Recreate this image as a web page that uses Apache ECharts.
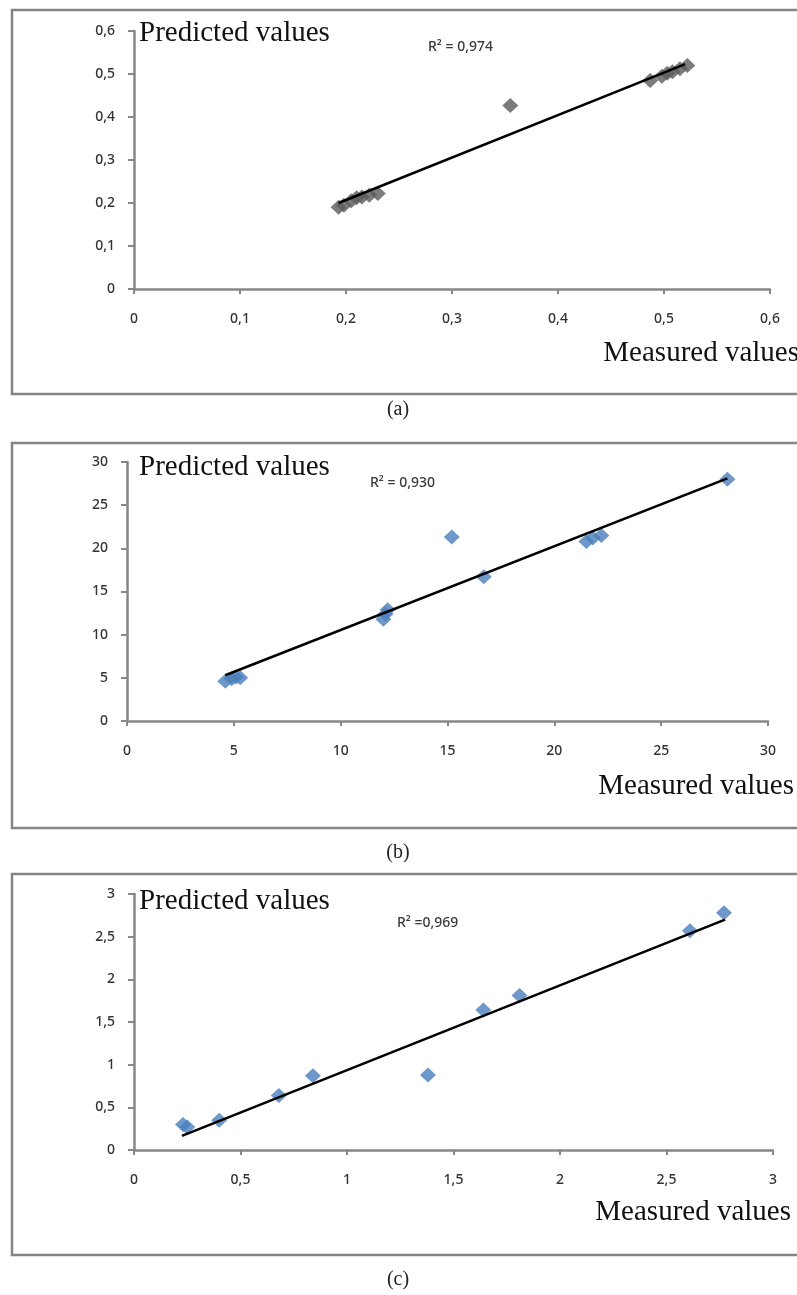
<!DOCTYPE html>
<html>
<head>
<meta charset="utf-8">
<script src="https://cdn.jsdelivr.net/npm/echarts@6/dist/echarts.min.js"></script>
<style>html,body{margin:0;padding:0;background:#fff;}#chart{width:797px;height:1295px;}</style>
</head>
<body>
<div id="chart"></div>
<script>
// Panel (a)
var aMeasured  = [0.193, 0.198, 0.205, 0.210, 0.215, 0.222, 0.230, 0.355, 0.487, 0.498, 0.503, 0.508, 0.515, 0.522];
var aPredicted = [0.190, 0.195, 0.205, 0.212, 0.214, 0.218, 0.222, 0.427, 0.485, 0.495, 0.502, 0.505, 0.512, 0.520];
var aTrendX = [0.193, 0.520];
var aTrendY = [0.200, 0.523];
// Panel (b)
var bMeasured  = [4.6, 4.9, 5.1, 5.3, 12.0, 12.1, 12.2, 15.2, 16.7, 21.5, 21.8, 22.2, 28.1];
var bPredicted = [4.6, 4.9, 5.1, 5.0, 11.8, 12.4, 12.9, 21.3, 16.7, 20.8, 21.2, 21.5, 28.0];
var bTrendX = [4.6, 28.1];
var bTrendY = [5.3, 28.1];
// Panel (c)
var cMeasured  = [0.23, 0.25, 0.40, 0.68, 0.84, 1.38, 1.64, 1.81, 2.61, 2.77];
var cPredicted = [0.30, 0.27, 0.35, 0.64, 0.87, 0.88, 1.64, 1.81, 2.57, 2.78];
var cTrendX = [0.225, 2.775];
var cTrendY = [0.165, 2.700];

var axisMax = [0.6, 30, 3];
var axisInterval = [0.1, 5, 0.5];
var r2Labels = ['R\u00B2 = 0,974', 'R\u00B2 = 0,930', 'R\u00B2 =0,969'];
var captions = ['(a)', '(b)', '(c)'];
var yTitle = 'Predicted values';
var xTitle = 'Measured values';

function pairs(xs, ys){ return xs.map(function(x,i){ return [x, ys[i]]; }); }
function comma(v){ return String(+v.toFixed(2)).replace('.', ','); }

var grids = [
  {left:134, top:31, width:636, height:258},
  {left:127, top:462, width:641, height:259},
  {left:134, top:894, width:639, height:256}
];
var axisColor = '#878787';
var labelStyle = {color:'#333', fontFamily:'Noto Sans', fontSize:14, fontWeight:500, formatter: comma};

var xAxes = [], yAxes = [];
for (var i=0;i<3;i++){
  xAxes.push({type:'value', gridIndex:i, min:0, max:axisMax[i], interval:axisInterval[i],
    axisLine:{show:true, onZero:false, lineStyle:{color:axisColor, width:2.5}},
    axisTick:{show:true, length:5, lineStyle:{color:axisColor, width:2}},
    splitLine:{show:false},
    axisLabel:Object.assign({margin:23}, labelStyle)});
  yAxes.push({type:'value', gridIndex:i, min:0, max:axisMax[i], interval:axisInterval[i],
    axisLine:{show:true, onZero:false, lineStyle:{color:axisColor, width:2.5}},
    axisTick:{show:true, length:6, lineStyle:{color:axisColor, width:2}},
    splitLine:{show:false},
    axisLabel:Object.assign({margin:19}, labelStyle)});
}

var markerColors = ['#5b5b5b', '#4a7ebb', '#4a7ebb'];
var scatterData = [pairs(aMeasured,aPredicted), pairs(bMeasured,bPredicted), pairs(cMeasured,cPredicted)];
var trendData = [pairs(aTrendX,aTrendY), pairs(bTrendX,bTrendY), pairs(cTrendX,cTrendY)];
var series = [];
for (var i=0;i<3;i++){
  series.push({type:'scatter', xAxisIndex:i, yAxisIndex:i, data:scatterData[i],
    symbol:'diamond', symbolSize:[16,15], itemStyle:{color:markerColors[i]}, z:2});
  series.push({type:'line', xAxisIndex:i, yAxisIndex:i, data:trendData[i],
    symbol:'none', lineStyle:{color:'#000', width:2.5}, z:3});
}

var frames = [[10,384],[443,385],[874,381]];
var graphic = [];
var yTitleY = [33, 467, 901];
var xTitleY = [353, 786, 1212];
var xTitleX = [799, 794, 791];
var r2Pos = [[428,47],[370,483],[397,923]];
var capY = [410, 853, 1280];
for (var i=0;i<3;i++){
  graphic.push({type:'rect', shape:{x:12, y:frames[i][0], width:800, height:frames[i][1]},
    style:{fill:'none', stroke:'#858585', lineWidth:2.5}, z:-1});
  graphic.push({type:'text', x:139, y:yTitleY[i], style:{text:yTitle, font:'29px "Liberation Serif"', fill:'#111', textVerticalAlign:'middle'}});
  graphic.push({type:'text', x:xTitleX[i], y:xTitleY[i], style:{text:xTitle, font:'29px "Liberation Serif"', fill:'#111', textAlign:'right', textVerticalAlign:'middle'}});
  graphic.push({type:'text', x:r2Pos[i][0], y:r2Pos[i][1], style:{text:r2Labels[i], font:'500 14px "Noto Sans"', fill:'#3a3a3a', textVerticalAlign:'middle'}});
  graphic.push({type:'text', x:398, y:capY[i], style:{text:captions[i], font:'20px "Liberation Serif"', fill:'#222', textAlign:'center', textVerticalAlign:'middle'}});
}

var chart = echarts.init(document.getElementById('chart'), null, {renderer:'canvas'});
chart.setOption({
  animation:false,
  backgroundColor:'#fff',
  grid:grids,
  xAxis:xAxes,
  yAxis:yAxes,
  series:series,
  graphic:graphic
});
</script>
</body>
</html>
